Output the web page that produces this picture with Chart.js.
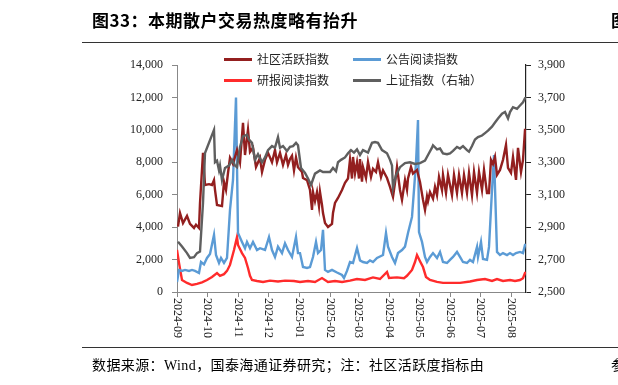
<!DOCTYPE html>
<html>
<head>
<meta charset="utf-8">
<script src="https://cdn.jsdelivr.net/npm/chart.js@4.4.1/dist/chart.umd.min.js"></script>
<style>
  html, body { margin:0; padding:0; background:#fff; }
  body { width:618px; height:385px; position:relative; overflow:hidden; }
  #c { position:absolute; left:0; top:0; }
  .t { position:absolute; white-space:nowrap; color:#000; }
  #title { left:92px; top:7px; font:bold 17px "Noto Sans CJK SC", sans-serif; letter-spacing:0.5px; }
  #cut1 { left:611px; top:7px; font:bold 17px "Noto Sans CJK SC", sans-serif; }
  #rule1 { position:absolute; left:82px; top:42px; width:536px; height:0; border-top:1.5px solid #333; }
  #rule2 { position:absolute; left:82px; top:347px; width:536px; height:0; border-top:1.5px solid #333; }
  #foot { left:92px; top:354px; font:14px "Liberation Serif", "Noto Sans CJK SC", serif; letter-spacing:0.4px; }
  #cut2 { left:611px; top:354px; font:14px "Noto Sans CJK SC", serif; }
  .lg { position:absolute; font:12px "Noto Sans CJK SC", sans-serif; color:#222; white-space:nowrap; }
  .sw { position:absolute; height:3px; width:28px; }
</style>
</head>
<body>
<canvas id="c" width="618" height="385"></canvas>
<div id="title" class="t">图33：本期散户交易热度略有抬升</div>
<div id="cut1" class="t">图34</div>
<div id="rule1"></div>
<div id="rule2"></div>
<div id="foot" class="t">数据来源：Wind，国泰海通证券研究；注：社区活跃度指标由</div>
<div id="cut2" class="t">参</div>
<div id="legend"></div>
<script>
// ---- data (x = days since 2024-09-01) ----
const monthTickDays   = [0, 30, 61, 91, 122, 153, 181, 212, 242, 273, 303, 334];
const monthTickLabels = ["2024-09","2024-10","2024-11","2024-12","2025-01","2025-02","2025-03","2025-04","2025-05","2025-06","2025-07","2025-08"];
const seriesNames = ["社区活跃指数", "公告阅读指数", "研报阅读指数", "上证指数（右轴）"];

const socialDays = [1,3,6,10,13,17,19,22,23,26,28,32,35,37,38,40,45,47,49,51,53,56,60,63,66,68,71,73,76,79,83,85,88,91,95,98,100,103,106,109,111,113,115,117,119,121,125,126,130,133,135,136,138,140,142,143,145,146,148,151,155,156,158,161,165,168,171,173,175,176,178,180,182,183,185,186,189,191,194,196,199,201,204,206,210,213,216,218,220,223,225,228,230,231,234,236,240,243,246,248,250,251,253,256,258,260,262,265,266,269,271,275,277,280,282,285,287,290,292,295,297,300,302,305,307,310,312,314,316,318,320,323,326,329,331,334,336,339,341,344,346,348,349];
const socialValues = [4030,4870,4250,4690,4200,3950,4150,3950,5490,8580,6600,6650,6600,6900,6300,5370,5300,6790,6300,7340,8270,7900,8760,8000,10430,8450,10000,8640,8900,7710,8270,7400,8150,8580,8000,8760,8000,8580,7840,8450,7840,8200,8400,7500,8300,7700,7400,7030,6900,6290,5060,6170,5600,6170,5300,6170,5370,4870,4250,4010,4200,4870,5490,5800,6290,6730,7000,8150,7000,8330,7300,8000,7000,8200,6800,7700,7030,8020,7090,7600,7400,8000,7090,7500,7030,6480,5860,6730,7710,6290,5680,6900,6300,7000,7710,7300,7530,6790,5680,5060,5900,5600,6160,5750,6480,5980,7100,6290,7220,6110,7220,5980,7220,6110,7220,6110,7220,6110,7340,5980,7400,6110,7400,6290,7530,6110,6110,8150,7900,8330,7220,7530,8150,9070,7650,7340,8330,6910,8890,7400,8150,10000,10000];

const noticeDays = [0,2,5,8,12,15,18,22,24,27,30,33,37,39,42,44,47,50,53,56,59,61,65,68,70,73,76,80,83,88,92,95,98,101,105,108,111,115,119,121,123,126,130,133,136,139,141,144,146,148,151,155,160,165,167,170,173,176,180,183,186,190,193,196,200,202,206,209,211,215,218,221,225,228,231,235,237,239,241,242,245,248,250,253,256,260,263,266,270,273,276,280,283,286,290,293,296,300,301,304,306,310,312,315,317,319,320,323,326,330,333,336,339,343,346,348,349];
const noticeValues = [620,1360,1300,1360,1300,1360,1300,1170,1850,1700,2100,2350,3520,2280,1790,2100,1790,2100,5060,6910,12000,3640,3090,2700,3090,2700,3090,2590,2700,2590,3390,2590,2160,2800,2400,3000,2590,2160,3390,2400,2400,1540,1480,1540,2160,3090,2400,2590,3830,1360,1240,1360,1200,1050,860,1300,1850,1790,2710,1950,1850,1790,1950,1850,2100,2160,2280,3640,2800,2160,1790,2400,2590,2800,3640,4630,6300,7960,10600,3700,3090,2160,1850,2160,2400,2100,2470,1850,1790,1980,2160,2470,2160,1850,1790,1980,1850,2780,2160,3090,2040,1980,2780,6290,8450,4440,2470,2280,2400,2280,2400,2280,2400,2470,2400,2900,2900];

const reportDays = [0,2,5,10,15,20,25,30,35,40,43,47,50,53,57,60,61,65,68,71,73,75,80,86,93,101,108,117,123,131,138,145,151,158,165,173,180,188,196,203,210,212,220,227,230,235,238,240,243,246,249,253,260,266,273,283,293,300,308,315,320,326,333,338,343,346,348,349];
const reportValues = [2600,1800,740,560,430,500,600,740,930,1170,1000,1100,1300,1670,2590,3390,2900,2400,2100,1480,1000,740,680,620,700,650,700,680,620,680,620,860,620,680,620,700,800,740,900,800,1240,870,900,850,1000,1360,1850,2280,1900,1540,930,740,620,560,560,560,650,740,800,680,800,680,740,680,740,850,1170,1170];

const shDays = [1,5,10,13,17,20,23,26,28,37,38,40,42,43,45,48,52,55,58,60,63,66,70,72,75,78,81,85,88,91,95,98,101,103,106,110,113,116,119,121,124,128,131,134,138,143,146,149,153,156,159,161,164,168,171,174,177,180,183,186,191,195,198,201,205,210,213,215,216,219,223,228,233,238,243,248,251,255,256,260,263,266,270,273,276,280,283,286,290,292,295,298,301,305,308,311,315,318,321,325,328,331,333,336,340,343,346,348,349];
const shValues = [2810,2780,2740,2710,2715,2740,2750,3050,3357,3500,3300,3310,3250,3280,3190,3265,3280,3315,3280,3270,3395,3460,3470,3440,3420,3315,3350,3300,3330,3375,3400,3390,3455,3390,3400,3370,3395,3400,3420,3405,3265,3235,3200,3160,3230,3250,3240,3240,3240,3265,3245,3300,3315,3330,3355,3375,3360,3380,3345,3375,3360,3420,3425,3420,3375,3355,3315,3280,3140,3220,3270,3295,3300,3290,3295,3310,3345,3390,3405,3380,3385,3355,3350,3355,3370,3395,3385,3400,3375,3365,3400,3440,3455,3465,3480,3495,3520,3545,3570,3600,3610,3570,3610,3640,3630,3650,3670,3695,3700];

const leftTicks  = [0, 2000, 4000, 6000, 8000, 10000, 12000, 14000];
const rightTicks = [2500, 2700, 2900, 3100, 3300, 3500, 3700, 3900];

// ---- styles ----
const colors = ["#931f1f", "#5b9bd5", "#ff2b2b", "#5f5f5f"];
const toPts = (xs, ys) => xs.map((d, i) => ({ x: d, y: ys[i] }));
const fmt = v => Number(v).toLocaleString('en-US');
const axisFont = { family: "'Liberation Serif', 'DejaVu Serif', serif", size: 12 };

// HTML legend
(function(){
  const lg = document.getElementById('legend');
  const pos = [[224, 52], [353, 52], [224, 73], [353, 73]];
  seriesNames.forEach((n, i) => {
    const sw = document.createElement('div');
    sw.className = 'sw';
    sw.style.left = pos[i][0] + 'px';
    sw.style.top = (pos[i][1] + 6) + 'px';
    sw.style.background = colors[i];
    lg.appendChild(sw);
    const t = document.createElement('div');
    t.className = 'lg';
    t.style.left = (pos[i][0] + 33) + 'px';
    t.style.top = (pos[i][1] - 2) + 'px';
    t.textContent = n;
    lg.appendChild(t);
  });
})();

const xLabelPlugin = {
  id: 'xLabels',
  afterDraw(chart) {
    const sc = chart.scales.x;
    const ctx = chart.ctx;
    ctx.save();
    ctx.fillStyle = '#222';
    ctx.font = "12px 'Liberation Serif', serif";
    ctx.textAlign = 'left';
    ctx.textBaseline = 'middle';
    sc.ticks.forEach((t, i) => {
      const px = sc.getPixelForValue(t.value);
      ctx.save();
      ctx.translate(px, sc.top + 6);
      ctx.rotate(Math.PI / 2);
      ctx.fillText(monthTickLabels[i], 0, 0);
      ctx.restore();
    });
    ctx.restore();
  }
};

const mk = (label, xs, ys, i, axis, order) => ({
  label, data: toPts(xs, ys), borderColor: colors[i], backgroundColor: colors[i],
  borderWidth: 2.4, pointRadius: 0, tension: 0, yAxisID: axis, order
});

new Chart(document.getElementById('c'), {
  type: 'line',
  data: {
    datasets: [
      mk(seriesNames[0], socialDays, socialValues, 0, 'y', 1),
      mk(seriesNames[1], noticeDays, noticeValues, 1, 'y', 2),
      mk(seriesNames[2], reportDays, reportValues, 2, 'y', 3),
      mk(seriesNames[3], shDays, shValues, 3, 'y1', 0)
    ]
  },
  options: {
    responsive: false,
    animation: false,
    devicePixelRatio: 1,
    layout: { padding: { top: 65, left: 0, right: 0, bottom: 0 } },
    plugins: { legend: { display: false }, title: { display: false }, tooltip: { enabled: false } },
    scales: {
      x: {
        type: 'linear', min: 0, max: 349,
        afterBuildTicks: s => { s.ticks = monthTickDays.map(v => ({ value: v })); },
        afterFit: s => { s.height = 93; },
        ticks: { display: false },
        grid: { display: true, drawOnChartArea: false, drawTicks: true, tickLength: 5, color: '#888' },
        border: { display: true, color: '#888', width: 1 }
      },
      y: {
        position: 'left', min: 0, max: 14000,
        afterBuildTicks: s => { s.ticks = leftTicks.map(v => ({ value: v })); },
        afterFit: s => { s.width = 177; },
        ticks: { font: axisFont, color: '#222', padding: 9, callback: v => fmt(v) },
        grid: { display: true, drawOnChartArea: false, drawTicks: true, tickLength: 5, color: '#888' },
        border: { display: true, color: '#888', width: 1 }
      },
      y1: {
        position: 'right', min: 2500, max: 3900,
        afterBuildTicks: s => { s.ticks = rightTicks.map(v => ({ value: v })); },
        afterFit: s => { s.width = 92; },
        ticks: { font: axisFont, color: '#222', padding: 7, callback: v => fmt(v) },
        grid: { display: true, drawOnChartArea: false, drawTicks: true, tickLength: 5, color: '#222' },
        border: { display: true, color: '#222', width: 1.2 }
      }
    }
  },
  plugins: [xLabelPlugin]
});
</script>
</body>
</html>
